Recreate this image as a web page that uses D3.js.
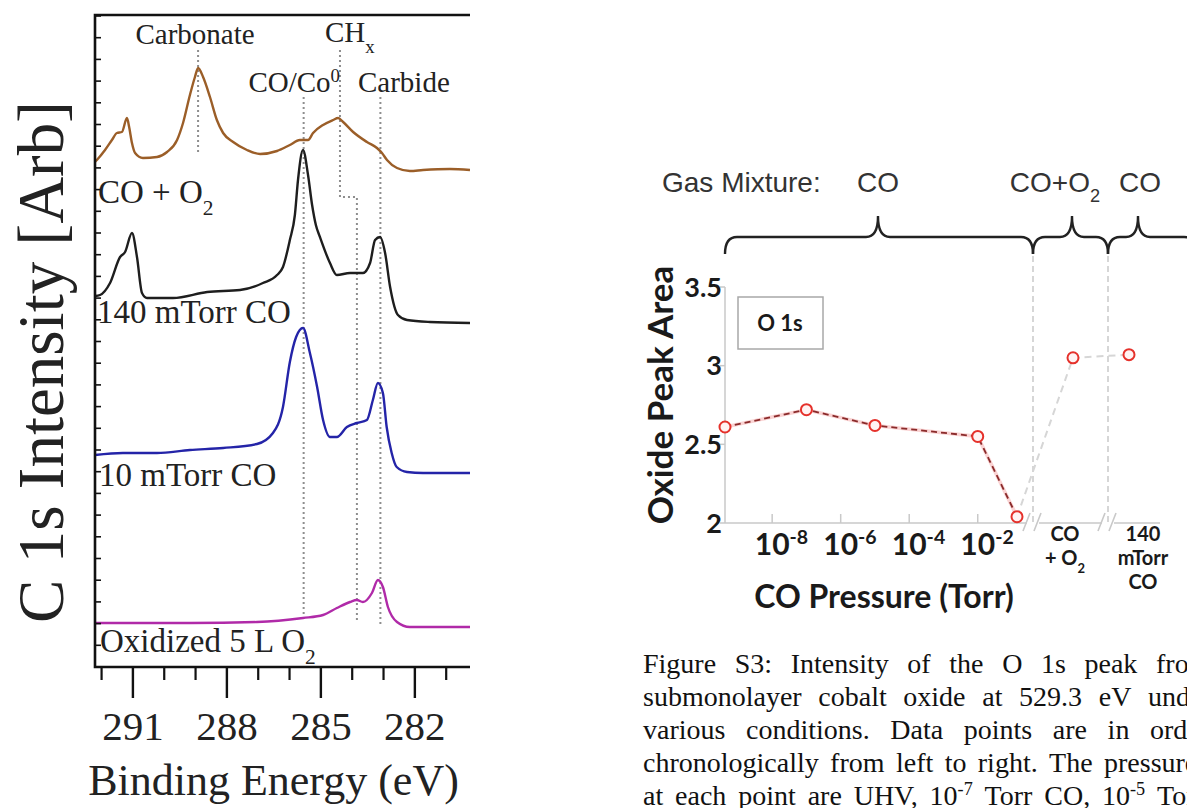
<!DOCTYPE html>
<html lang="en">
  <head>
    <meta charset="UTF-8" />
    <title>C 1s spectra and O 1s oxide peak area</title>
    <script src="https://cdn.jsdelivr.net/npm/d3@7"></script>
    <style>
      body { margin: 0; background: #fff; }
      svg { display: block; }
    </style>
  </head>
  <body>
    <script>
      // ---------- data ----------
      // C 1s spectra : [binding energy (eV), intensity (arb.)]
      const spectrumCOO2 = [
        [292.21, 505], [292.15, 507], [291.89, 517], [291.67, 527], [291.51, 534], [291.35, 535],
        [291.19, 549], [291.12, 540], [291.03, 524], [290.93, 514], [290.68, 509], [290.23, 510],
        [289.91, 515], [289.59, 527], [289.40, 544], [289.18, 572], [289.02, 590], [288.92, 599],
        [288.76, 590], [288.54, 570], [288.32, 547], [288.12, 534], [287.80, 525], [287.36, 517],
        [286.94, 513], [286.40, 516], [285.99, 522], [285.67, 527], [285.41, 527], [285.25, 534],
        [284.93, 542], [284.61, 547], [284.45, 549], [284.29, 545], [283.97, 535], [283.53, 525],
        [283.21, 519], [283.05, 514], [282.89, 507], [282.57, 499], [282.16, 496], [281.74, 497],
        [280.88, 498], [280.24, 497]
      ];
      const spectrum140mTorr = [
        [292.21, 371], [292.05, 372], [291.73, 384], [291.41, 410], [291.25, 415], [291.03, 434],
        [290.87, 410], [290.71, 374], [290.55, 369], [289.72, 369], [288.63, 375], [287.58, 377],
        [286.85, 384], [286.40, 392], [286.21, 400], [285.99, 427], [285.83, 452], [285.73, 487],
        [285.57, 517], [285.41, 492], [285.28, 462], [285.16, 442], [285.03, 430], [284.71, 404],
        [284.49, 392], [284.07, 394], [283.66, 394], [283.43, 404], [283.27, 427], [283.11, 430],
        [282.95, 414], [282.79, 380], [282.54, 352], [282.25, 347], [281.52, 345], [280.24, 344]
      ];
      const spectrum10mTorr = [
        [292.21, 212], [291.32, 214], [290.23, 214], [289.18, 217], [288.12, 219], [287.04, 223],
        [286.53, 234], [286.21, 260], [285.99, 305], [285.79, 330], [285.57, 339], [285.35, 314],
        [285.12, 280], [284.93, 247], [284.71, 230], [284.49, 230], [284.17, 240], [283.85, 244],
        [283.53, 247], [283.34, 267], [283.18, 284], [283.02, 274], [282.90, 240], [282.74, 214],
        [282.58, 200], [282.25, 195], [281.74, 194], [280.24, 194]
      ];
      const spectrumOxidized = [
        [292.21, 44], [291.32, 44], [289.18, 44], [287.04, 45], [285.57, 49], [284.93, 52],
        [284.49, 59], [284.07, 65], [283.85, 67], [283.66, 65], [283.37, 74], [283.18, 87],
        [283.02, 80], [282.86, 60], [282.57, 45], [282.16, 40], [280.24, 40]
      ];
      const energyMajorTicks = [291, 288, 285, 282];
      const peakEnergies = [288.92, 285.55, 284.39, 283.1]; // carbonate, CO/Co0, CHx, carbide
      const chxShiftEnergy = 283.85;

      // O 1s oxide peak area
      const coPressures = [4.2e-10, 1e-7, 1e-5, 1e-2, 0.14]; // first point = UHV, drawn at the axis start
      const coOxideArea = [2.61, 2.72, 2.62, 2.55, 2.04];
      const laterConditions = ["CO + O2", "140 mTorr CO"];
      const laterOxideArea = [3.05, 3.07];
      const pressureTicks = [1e-8, 1e-6, 1e-4, 1e-2];
      const pressureTickLabels = ["10^-8", "10^-6", "10^-4", "10^-2"];
      const areaTicks = [2, 2.5, 3, 3.5];
      const areaTickLabels = ["2", "2.5", "3", "3.5"];
      const gasGroups = ["CO", "CO+O_2", "CO"];

      const captionLines = [
        "Figure S3: Intensity of the O 1s peak from",
        "submonolayer cobalt oxide at 529.3 eV under",
        "various conditions. Data points are in order",
        "chronologically from left to right. The pressures",
        "at each point are UHV, 10^-7 Torr CO, 10^-5 Torr"
      ];

      // ---------- helpers ----------
      const serif = '"Liberation Serif", "Times New Roman", serif';
      const sans = '"Liberation Sans", Arial, sans-serif';
      const calib = 'Lato, "Open Sans", sans-serif';

      // "O_2" -> subscript, "10^-8" -> superscript
      function addRich(textSel, str) {
        const m = str.match(/([_^])(\S+)/);
        if (!m) { textSel.append("tspan").text(str); return textSel; }
        textSel.append("tspan").text(str.slice(0, m.index));
        textSel.append("tspan")
          .attr("baseline-shift", m[1] === "^" ? "super" : "sub")
          .attr("font-size", "0.65em")
          .text(m[2]);
        return textSel;
      }

      const svg = d3.select("body").append("svg")
        .attr("width", 1187).attr("height", 808)
        .style("background", "#fff");

      // ================= left panel : C 1s =================
      const xE = d3.scaleLinear().domain([292.21, 280.24]).range([95, 470]);
      const yI = d3.scaleLinear().domain([0, 652]).range([667, 15]);
      const [pL, pR] = xE.range();
      const [pB, pT] = yI.range();

      const gL = svg.append("g").attr("font-family", serif).attr("fill", "#222");

      // dotted peak guides
      const guides = gL.append("g")
        .attr("fill", "none").attr("stroke", "#8e8e8e")
        .attr("stroke-width", 2).attr("stroke-dasharray", "2,3");
      guides.append("path").attr("d", `M${xE(peakEnergies[0])},50 V155`);
      guides.append("path").attr("d", `M${xE(peakEnergies[1])},97 V617`);
      guides.append("path").attr("d", `M${xE(peakEnergies[2])},50 V197 H${xE(chxShiftEnergy)} V620`);
      guides.append("path").attr("d", `M${xE(peakEnergies[3])},97 V625`);

      // spectra
      const line = d3.line()
        .x(d => xE(d[0]))
        .y(d => yI(d[1]))
        .curve(d3.curveMonotoneX);
      const spectra = [
        { data: spectrumCOO2, color: "#9b5e28" },
        { data: spectrum140mTorr, color: "#1e1e1e" },
        { data: spectrum10mTorr, color: "#2424a8" },
        { data: spectrumOxidized, color: "#b02aa8" }
      ];
      gL.append("g").selectAll("path")
        .data(spectra)
        .join("path")
        .attr("d", d => line(d.data))
        .attr("fill", "none")
        .attr("stroke", d => d.color)
        .attr("stroke-width", 2.4)
        .attr("stroke-linejoin", "round");

      // frame (top, left, bottom)
      gL.append("path")
        .attr("d", `M${pR},${pT} H${pL} V${pB} H${pR}`)
        .attr("fill", "none").attr("stroke", "#111").attr("stroke-width", 2.6);

      // left ticks (inward)
      gL.append("g").selectAll("line")
        .data(d3.range(21.7, 652, 21.7))
        .join("line")
        .attr("x1", pL).attr("x2", pL + 6)
        .attr("y1", d => yI(d)).attr("y2", d => yI(d))
        .attr("stroke", "#111").attr("stroke-width", 1.6);

      // bottom ticks (outward)
      const minorE = d3.range(281, 293).filter(e => !energyMajorTicks.includes(e));
      gL.append("g").selectAll("line")
        .data(minorE)
        .join("line")
        .attr("x1", d => xE(d)).attr("x2", d => xE(d))
        .attr("y1", pB).attr("y2", pB + 13)
        .attr("stroke", "#111").attr("stroke-width", 2.2);
      gL.append("g").selectAll("line")
        .data(energyMajorTicks)
        .join("line")
        .attr("x1", d => xE(d)).attr("x2", d => xE(d))
        .attr("y1", pB).attr("y2", pB + 31)
        .attr("stroke", "#111").attr("stroke-width", 2.4);
      gL.append("g").selectAll("text")
        .data(energyMajorTicks)
        .join("text")
        .attr("x", d => xE(d)).attr("y", 740)
        .attr("text-anchor", "middle")
        .attr("font-size", 41)
        .text(d => d);

      gL.append("text")
        .attr("x", (pL + pR) / 2 - 9).attr("y", 795)
        .attr("text-anchor", "middle").attr("font-size", 44)
        .text("Binding Energy (eV)");
      gL.append("text")
        .attr("transform", "translate(63,362) rotate(-90)")
        .attr("text-anchor", "middle").attr("font-size", 65)
        .text("C 1s Intensity [Arb]");

      // peak labels
      const peakLbl = gL.append("g").attr("font-size", 29);
      peakLbl.append("text").attr("x", xE(peakEnergies[0]) - 3).attr("y", 44)
        .attr("text-anchor", "middle").text("Carbonate");
      addRich(peakLbl.append("text").attr("x", 325).attr("y", 42), "CH_x");
      addRich(peakLbl.append("text").attr("x", 340).attr("y", 92).attr("text-anchor", "end"), "CO/Co^0");
      peakLbl.append("text").attr("x", 358).attr("y", 92).text("Carbide");

      // trace labels
      const trLbl = gL.append("g").attr("font-size", 33);
      addRich(trLbl.append("text").attr("x", 98).attr("y", 203), "CO + O_2");
      trLbl.append("text").attr("x", 97).attr("y", 323).text("140 mTorr CO");
      trLbl.append("text").attr("x", 99).attr("y", 486).text("10 mTorr CO");
      addRich(trLbl.append("text").attr("x", 100).attr("y", 652), "Oxidized 5 L O_2");

      // ================= right panel : O 1s =================
      const xP = d3.scaleLog().domain([coPressures[0], coPressures[coPressures.length - 1]]).range([725, 1017]);
      const xC = d3.scalePoint().domain(laterConditions).range([1073, 1129]);
      const yA = d3.scaleLinear().domain([2, 3.5]).range([523, 287]);
      const axisY = yA(2), axisX = xP.range()[0];
      const sepX = [1033, 1108];
      const lightGrey = "#c9c9c9";

      const gR = svg.append("g").attr("font-family", calib).attr("fill", "#1a1a1a");

      // axes
      gR.append("line").attr("x1", axisX).attr("x2", axisX)
        .attr("y1", yA(3.5)).attr("y2", axisY)
        .attr("stroke", lightGrey).attr("stroke-width", 1.5);
      gR.append("path")
        .attr("d", `M${axisX},${axisY} H${sepX[0] - 6} M${sepX[0] + 6},${axisY} H${sepX[1] - 6} M${sepX[1] + 6},${axisY} H1160`)
        .attr("stroke", lightGrey).attr("stroke-width", 1.5);
      // axis breaks
      gR.append("g").selectAll("path")
        .data(sepX)
        .join("path")
        .attr("d", x => `M${x - 10},${axisY + 8} L${x - 3},${axisY - 10} M${x + 1},${axisY + 8} L${x + 8},${axisY - 10}`)
        .attr("stroke", lightGrey).attr("stroke-width", 1.6).attr("fill", "none");
      // separators
      gR.append("g").selectAll("line")
        .data(sepX)
        .join("line")
        .attr("x1", d => d).attr("x2", d => d)
        .attr("y1", 256).attr("y2", axisY)
        .attr("stroke", lightGrey).attr("stroke-width", 1.5)
        .attr("stroke-dasharray", "6,4");

      // y ticks
      gR.append("g").selectAll("line")
        .data(areaTicks)
        .join("line")
        .attr("x1", axisX - 5).attr("x2", axisX)
        .attr("y1", d => yA(d)).attr("y2", d => yA(d))
        .attr("stroke", lightGrey).attr("stroke-width", 1.5);
      gR.append("g").selectAll("text")
        .data(areaTicks)
        .join("text")
        .attr("x", axisX - 3).attr("y", d => yA(d))
        .attr("dy", "0.36em")
        .attr("text-anchor", "end")
        .attr("font-size", 27).attr("font-weight", 700)
        .text((d, i) => areaTickLabels[i]);

      // x ticks
      gR.append("g").selectAll("line")
        .data(pressureTicks)
        .join("line")
        .attr("x1", d => xP(d)).attr("x2", d => xP(d))
        .attr("y1", axisY).attr("y2", axisY - 9)
        .attr("stroke", lightGrey).attr("stroke-width", 1.5);
      pressureTicks.forEach((t, i) => {
        const txt = gR.append("text")
          .attr("y", 555).attr("font-size", 30).attr("font-weight", 700);
        addRich(txt, pressureTickLabels[i]);
        const baseW = txt.node().getSubStringLength(0, 2);
        txt.attr("x", xP(t) - baseW / 2);
      });

      // category labels for the later conditions (one text, stacked lines)
      const catLines = [["CO", "+ O_2"], ["140", "mTorr", "CO"]];
      const catShift = [-8, 14];
      laterConditions.forEach((c, i) => {
        const cx = xC(c) + catShift[i];
        const txt = gR.append("text")
          .attr("x", cx).attr("y", 541)
          .attr("text-anchor", "middle")
          .attr("font-size", 20).attr("font-weight", 700);
        catLines[i].forEach((s, j) => {
          addRich(txt.append("tspan").attr("x", cx).attr("dy", j === 0 ? 0 : 24), s);
        });
      });

      gR.append("text")
        .attr("x", 884).attr("y", 608)
        .attr("text-anchor", "middle")
        .attr("font-size", 32).attr("font-weight", 700)
        .text("CO Pressure (Torr)");
      gR.append("text")
        .attr("transform", "translate(673,395) rotate(-90)")
        .attr("text-anchor", "middle")
        .attr("font-size", 35).attr("font-weight", 700)
        .text("Oxide Peak Area");

      // legend box
      gR.append("rect")
        .attr("x", 738).attr("y", 297).attr("width", 85).attr("height", 52)
        .attr("fill", "none").attr("stroke", "#a8a8a8").attr("stroke-width", 1.5);
      gR.append("text")
        .attr("x", 780).attr("y", 331)
        .attr("text-anchor", "middle")
        .attr("font-size", 22).attr("font-weight", 700)
        .text("O 1s");

      // connecting lines
      const coPts = coPressures.map((p, i) => [xP(p), yA(coOxideArea[i])]);
      const laterPts = laterConditions.map((c, i) => [xC(c), yA(laterOxideArea[i])]);
      gR.append("path")
        .attr("d", d3.line()([coPts[coPts.length - 1], ...laterPts]))
        .attr("fill", "none").attr("stroke", "#d6d6d6")
        .attr("stroke-width", 2).attr("stroke-dasharray", "7,5");
      gR.append("path")
        .attr("d", d3.line()(coPts))
        .attr("fill", "none").attr("stroke", "#f08080").attr("stroke-width", 3.5)
        .attr("opacity", 0.35);
      gR.append("path")
        .attr("d", d3.line()(coPts))
        .attr("fill", "none").attr("stroke", "#8a2a2a")
        .attr("stroke-width", 1.8).attr("stroke-dasharray", "6,4");
      gR.append("g").selectAll("circle")
        .data([...coPts, ...laterPts])
        .join("circle")
        .attr("cx", d => d[0]).attr("cy", d => d[1]).attr("r", 5.5)
        .attr("fill", "#fff3f3").attr("stroke", "#e5312b").attr("stroke-width", 2);

      // gas mixture braces
      function bracePath(x0, x1, xm, y, h, tip) {
        const r1 = Math.min(12, (xm - x0) / 2), r2 = Math.min(12, (x1 - xm) / 2);
        return `M${x0},${y + h} Q${x0},${y} ${x0 + r1},${y} L${xm - r1},${y} ` +
          `Q${xm},${y} ${xm},${y - tip} Q${xm},${y} ${xm + r2},${y} ` +
          `L${x1 - r2},${y} Q${x1},${y} ${x1},${y + h}`;
      }
      const braces = [
        { x0: axisX, x1: sepX[0], tip: 878, lx: 878 },
        { x0: sepX[0], x1: sepX[1], tip: 1072, lx: 1055 },
        { x0: sepX[1], x1: 1196, tip: 1138, lx: 1140 }
      ];
      gR.append("g").selectAll("path")
        .data(braces)
        .join("path")
        .attr("d", b => bracePath(b.x0, b.x1, b.tip, 237, 17, 21))
        .attr("fill", "none").attr("stroke", "#222").attr("stroke-width", 2.4);

      const gas = gR.append("g").attr("font-family", sans).attr("font-size", 28).attr("fill", "#333");
      gas.append("text").attr("x", 662).attr("y", 192).text("Gas Mixture:");
      braces.forEach((b, i) => {
        addRich(gas.append("text").attr("x", b.lx).attr("y", 192).attr("text-anchor", "middle"), gasGroups[i]);
      });

      // ================= caption =================
      const capX = 643, capY0 = 673, capLead = 33;
      const capTargets = [1156, 1148, 1150, 1104, 1157];
      const cap = svg.append("g").attr("font-family", serif).attr("font-size", 28).attr("fill", "#111");
      captionLines.forEach((ln, i) => {
        const words = ln.split(" ");
        const nodes = words.map(w => addRich(cap.append("text").attr("y", capY0 + i * capLead), w));
        const widths = nodes.map(n => n.node().getComputedTextLength());
        const used = d3.sum(widths.slice(0, -1));
        const gap = (capTargets[i] - capX - used) / (words.length - 1);
        let x = capX;
        nodes.forEach((n, j) => { n.attr("x", x); x += widths[j] + gap; });
      });
    </script>
  </body>
</html>
